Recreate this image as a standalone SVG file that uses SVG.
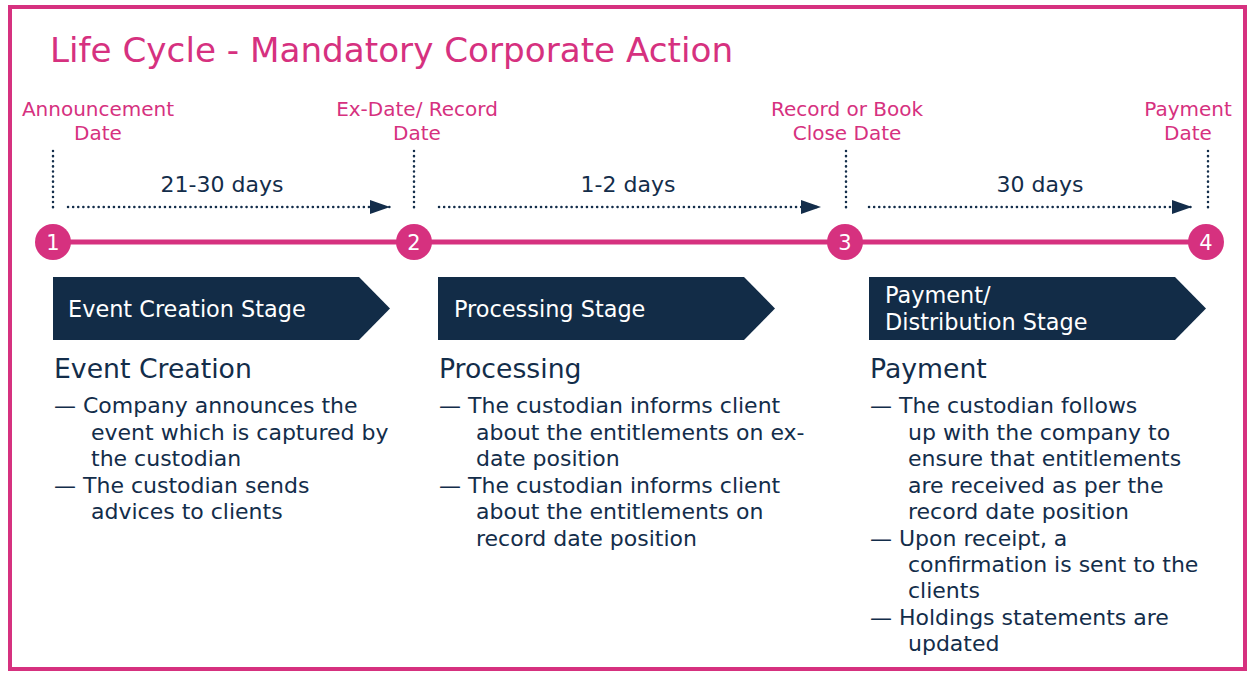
<svg xmlns="http://www.w3.org/2000/svg" width="1250" height="673" viewBox="0 0 1250 673">
<style>
text{font-family:"DejaVu Sans","Liberation Sans",sans-serif}
.pink{fill:#D6317F}
.date{font-size:20px;text-anchor:middle}
.navy{fill:#132D4A}
.days{font-size:22px;text-anchor:middle}
.stage{fill:#FFFFFF;font-size:22.4px}
.head{font-size:26.7px}
.body{font-size:22px}
.vdot{stroke:#132D4A;stroke-width:2.5;stroke-dasharray:0.1 5;stroke-linecap:round;fill:none}
.hdot{stroke:#132D4A;stroke-width:2.5;stroke-dasharray:0.1 5;stroke-linecap:round;fill:none}
.chev{fill:#122C47}
.circ{fill:#D6317F}
.num{fill:#FFFFFF;font-size:21px;text-anchor:middle}
</style>
<defs>
<marker id="ah" markerWidth="20" markerHeight="14" refX="20" refY="7" orient="auto" markerUnits="userSpaceOnUse">
<path d="M0,0 L20,7 L0,14 Z" fill="#132D4A"/>
</marker>
</defs>
<rect x="10" y="7" width="1235" height="662" fill="#FFFFFF" stroke="#D6317F" stroke-width="4"/>
<text class="pink" x="50" y="62" font-size="34.2">Life Cycle - Mandatory Corporate Action</text>

<g id="connectors">
<line x1="53" y1="242" x2="1206" y2="242" stroke="#D6317F" stroke-width="5"/>
<line class="vdot" x1="53" y1="151" x2="53" y2="212"/>
<line class="vdot" x1="414" y1="151" x2="414" y2="212"/>
<line class="vdot" x1="846" y1="151" x2="846" y2="212"/>
<line class="vdot" x1="1208" y1="151" x2="1208" y2="212"/>
<line class="hdot" x1="68" y1="207" x2="390" y2="207" marker-end="url(#ah)"/>
<line class="hdot" x1="439" y1="207" x2="821" y2="207" marker-end="url(#ah)"/>
<line class="hdot" x1="869" y1="207" x2="1192" y2="207" marker-end="url(#ah)"/>
</g>

<g id="date1">
<text class="pink date" x="98" y="116">Announcement</text>
<text class="pink date" x="98" y="140">Date</text>
</g>
<g id="date2">
<text class="pink date" x="417" y="116">Ex-Date/ Record</text>
<text class="pink date" x="417" y="140">Date</text>
</g>
<g id="date3">
<text class="pink date" x="847" y="116">Record or Book</text>
<text class="pink date" x="847" y="140">Close Date</text>
</g>
<g id="date4">
<text class="pink date" x="1188" y="116">Payment</text>
<text class="pink date" x="1188" y="140">Date</text>
</g>

<g id="span1"><text class="navy days" x="222" y="192">21-30 days</text></g>
<g id="span2"><text class="navy days" x="628" y="192">1-2 days</text></g>
<g id="span3"><text class="navy days" x="1040" y="192">30 days</text></g>

<g id="m1"><circle class="circ" cx="53" cy="242" r="18"/><text class="num" x="53" y="250">1</text></g>
<g id="m2"><circle class="circ" cx="414" cy="242" r="18"/><text class="num" x="414" y="250">2</text></g>
<g id="m3"><circle class="circ" cx="845" cy="242" r="18"/><text class="num" x="845" y="250">3</text></g>
<g id="m4"><circle class="circ" cx="1206" cy="242" r="18"/><text class="num" x="1206" y="250">4</text></g>

<g id="stage1">
<path class="chev" d="M53,277 H359 L390,308.5 L359,340 H53 Z"/>
<text class="stage" x="68" y="317">Event Creation Stage</text>
</g>
<g id="stage2">
<path class="chev" d="M438,277 H744 L775,308.5 L744,340 H438 Z"/>
<text class="stage" x="454" y="317">Processing Stage</text>
</g>
<g id="stage3">
<path class="chev" d="M869,277 H1175 L1206,308.5 L1175,340 H869 Z"/>
<text class="stage" x="885" y="303">Payment/</text>
<text class="stage" x="885" y="330">Distribution Stage</text>
</g>

<g id="col1">
<text class="navy head" x="54" y="378">Event Creation</text>
<text class="navy body" x="54" y="413">— Company announces the</text>
<text class="navy body" x="91" y="440">event which is captured by</text>
<text class="navy body" x="91" y="466">the custodian</text>
<text class="navy body" x="54" y="493">— The custodian sends</text>
<text class="navy body" x="91" y="519">advices to clients</text>
</g>
<g id="col2">
<text class="navy head" x="439" y="378">Processing</text>
<text class="navy body" x="439" y="413">— The custodian informs client</text>
<text class="navy body" x="476" y="440">about the entitlements on ex-</text>
<text class="navy body" x="476" y="466">date position</text>
<text class="navy body" x="439" y="493">— The custodian informs client</text>
<text class="navy body" x="476" y="519">about the entitlements on</text>
<text class="navy body" x="476" y="546">record date position</text>
</g>
<g id="col3">
<text class="navy head" x="870" y="378">Payment</text>
<text class="navy body" x="870" y="413">— The custodian follows</text>
<text class="navy body" x="908" y="440">up with the company to</text>
<text class="navy body" x="908" y="466">ensure that entitlements</text>
<text class="navy body" x="908" y="493">are received as per the</text>
<text class="navy body" x="908" y="519">record date position</text>
<text class="navy body" x="870" y="546">— Upon receipt, a</text>
<text class="navy body" x="908" y="572">confirmation is sent to the</text>
<text class="navy body" x="908" y="598">clients</text>
<text class="navy body" x="870" y="625">— Holdings statements are</text>
<text class="navy body" x="908" y="651">updated</text>
</g>
</svg>
